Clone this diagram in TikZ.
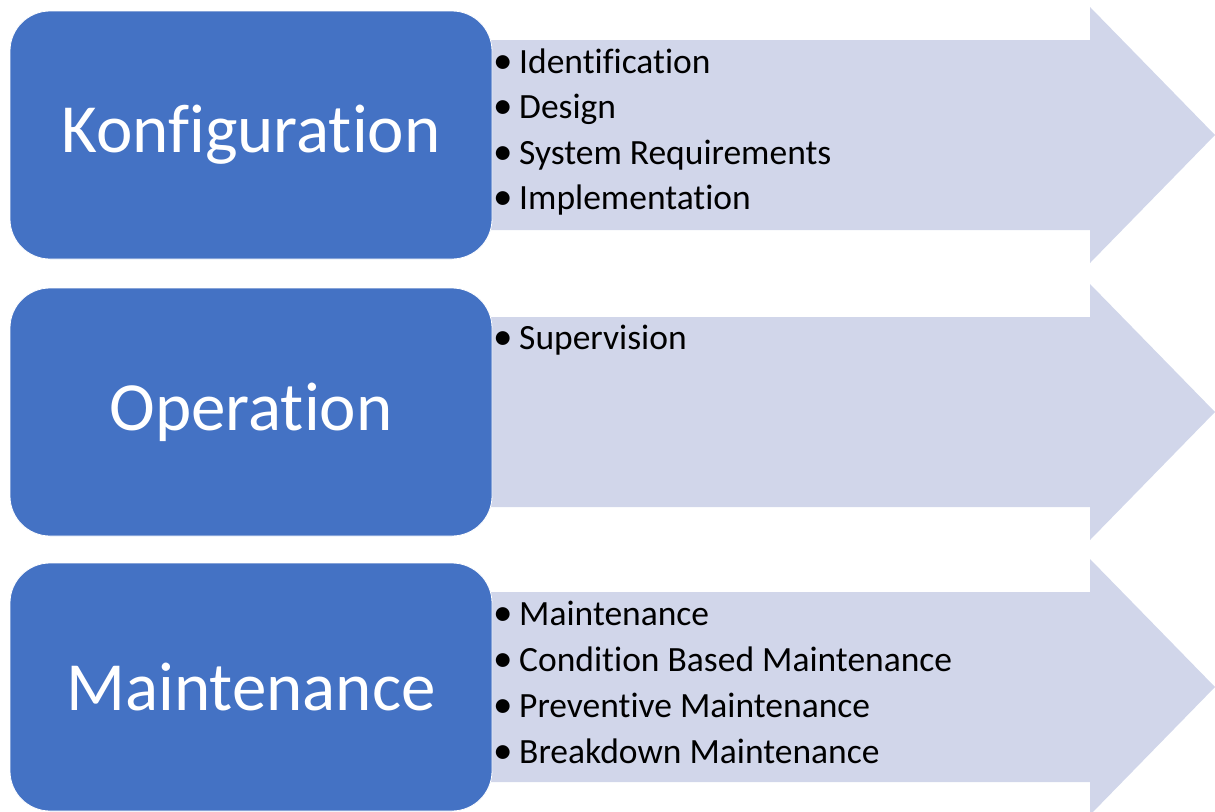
\documentclass[tikz,border=0pt]{standalone}
\usepackage{fontspec}
\setmainfont[Ligatures=NoCommon]{Carlito}
\definecolor{boxblue}{HTML}{4472C4}
\definecolor{arrowfill}{HTML}{D1D6EA}
\begin{document}
\begin{tikzpicture}[x=1pt,y=-1pt,
  phase/.style={fill=boxblue,draw=white,line width=0.8pt,rounded corners=40pt,
    minimum width=482pt,minimum height=248pt,inner sep=0pt,text=white,
    font=\fontsize{69}{69}\selectfont},
  item/.style={anchor=base west,inner sep=0pt,text=black,font=\fontsize{35.5}{35.5}\selectfont},
  flow/.style={fill=arrowfill,draw=none}]
\useasboundingbox (0,0) rectangle (1215,811);
% arrows
\foreach \c/\n in {135/a1,412/a2,687/a3}{
  \fill[flow] (470,\c-95) -- (1090,\c-95) -- (1090,\c-128) -- (1215,\c)
     -- (1090,\c+128) -- (1090,\c+95) -- (470,\c+95) -- cycle;
}
% boxes
\node[phase] (k) at (251,135) {Konfiguration};
\node[phase] (o) at (251,412) {Operation};
\node[phase] (m) at (251,687) {Maintenance};
% items
\newcommand{\bul}{\makebox[14pt][c]{\scalebox{1.1}{•}}\hspace{9pt}}
\node[item] (k1) at (496,73) {\bul Identification};
\node[item] (k2) at (496,118) {\bul Design};
\node[item] (k3) at (496,164) {\bul System Requirements};
\node[item] (k4) at (496,209) {\bul Implementation};
\node[item] (o1) at (496,349) {\bul Supervision};
\node[item] (m1) at (496,625) {\bul Maintenance};
\node[item] (m2) at (496,671) {\bul Condition Based Maintenance};
\node[item] (m3) at (496,717) {\bul Preventive Maintenance};
\node[item] (m4) at (496,763) {\bul Breakdown Maintenance};
\end{tikzpicture}
\end{document}
